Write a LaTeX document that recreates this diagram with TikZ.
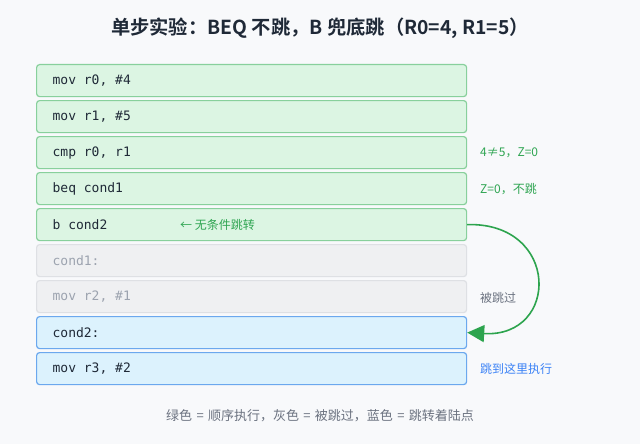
\documentclass[tikz,border=0pt]{standalone}
\usepackage{fontspec}
\newfontfamily\cjk{Noto Sans CJK SC}
\newfontfamily\cjkb{Noto Sans CJK SC Bold}
\newfontfamily\codemono{DejaVu Sans Mono}
\usetikzlibrary{arrows.meta}
\definecolor{bg}{HTML}{F8F9FB}
\definecolor{gfill}{HTML}{DCF5E3}
\definecolor{gline}{HTML}{88D09C}
\definecolor{hfill}{HTML}{EFF0F2}
\definecolor{hline}{HTML}{DEE0E4}
\definecolor{bfill}{HTML}{DCF2FD}
\definecolor{bline}{HTML}{6BA8EE}
\definecolor{darktext}{HTML}{1F2937}
\definecolor{graytext}{HTML}{9CA3AF}
\definecolor{gnote}{HTML}{2FA552}
\definecolor{bnote}{HTML}{3B82F6}
\definecolor{capt}{HTML}{6B7280}
\definecolor{arrowg}{HTML}{2DA44E}
\makeatletter
\newcommand{\monotext}[1]{\@tfor\mchar:=#1\do{\makebox[7.83pt][l]{\mchar}}}
\makeatother
\begin{document}
\begin{tikzpicture}[x=1pt,y=-1pt,
  rowbox/.style={rounded corners=3pt,line width=1.2pt,minimum width=430pt,minimum height=32pt,inner ysep=0pt,
    inner xsep=16pt,text width=398pt,align=left,anchor=north west,font=\codemono\fontsize{13}{15}\selectfont},
  greenrow/.style={rowbox,draw=gline,fill=gfill,text=darktext},
  grayrow/.style={rowbox,draw=hline,fill=hfill,text=graytext},
  bluerow/.style={rowbox,draw=bline,fill=bfill,text=darktext},
  note/.style={anchor=west,inner sep=0pt,font=\cjk\fontsize{12}{14}\selectfont}
]
\fill[bg] (0,0) rectangle (640,444);
\useasboundingbox (0,0) rectangle (640,444);
\node[font=\cjkb\fontsize{19.3}{22}\selectfont,text=darktext] (title) at (320,28) {单步实验：BEQ 不跳，B 兜底跳（R0=4, R1=5）};
\node[greenrow] (r1) at (36,64) {\monotext{mov~r0,~\#4}};
\node[greenrow] (r2) at (36,100) {\monotext{mov~r1,~\#5}};
\node[greenrow] (r3) at (36,136) {\monotext{cmp~r0,~r1}};
\node[greenrow] (r4) at (36,172) {\monotext{beq~cond1}};
\node[greenrow] (r5) at (36,208) {\monotext{b~cond2}};
\node[grayrow] (r6) at (36,244) {\monotext{cond1:}};
\node[grayrow] (r7) at (36,280) {\monotext{mov~r2,~\#1}};
\node[bluerow] (r8) at (36,316) {\monotext{cond2:}};
\node[bluerow] (r9) at (36,352) {\monotext{mov~r3,~\#2}};
\node[note,text=gnote] (n3) at (480,153) {4≠5，Z=0};
\node[note,text=gnote] (n4) at (480,189) {Z=0，不跳};
\node[note,text=gnote] (n5) at (180,225) {← 无条件跳转};
\node[note,text=capt] (n7) at (480,298) {被跳过};
\node[note,text=bnote] (n9) at (480,369) {跳到这里执行};
\draw[arrowg,line width=1.6pt,-{Triangle[length=17pt,width=17pt]}]
  (r5.east) .. controls (560,222) and (560,338) .. (r8.east);
\node[font=\cjk\fontsize{13}{15}\selectfont,text=capt] (cap) at (320,416) {绿色\,\,=\,\,顺序执行，灰色\,\,=\,\,被跳过，蓝色\,\,=\,\,跳转着陆点};
\end{tikzpicture}
\end{document}
